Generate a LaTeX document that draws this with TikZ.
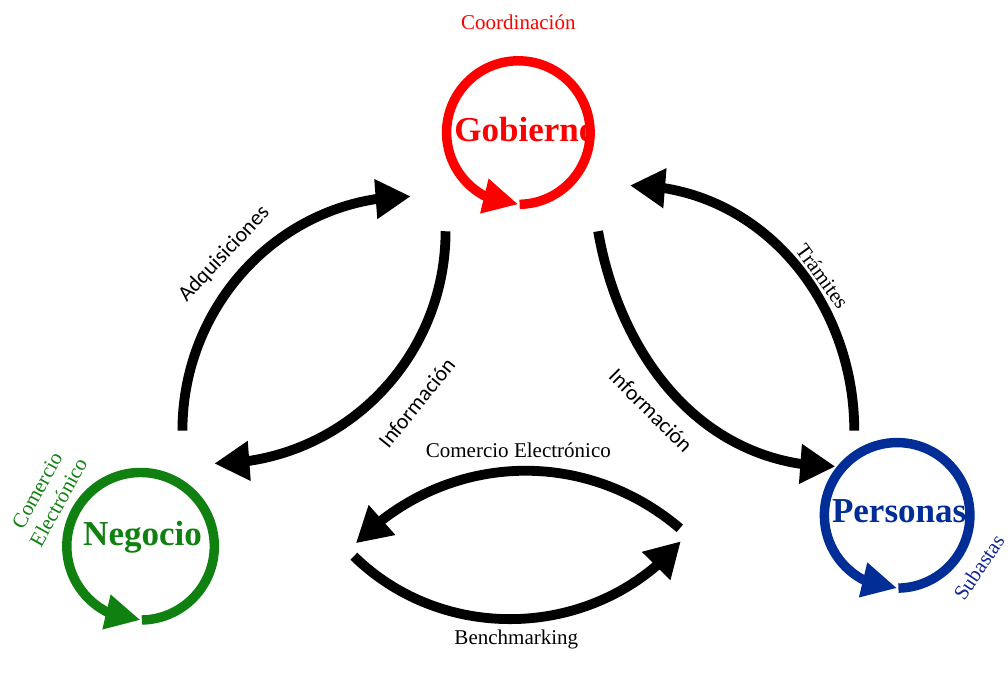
\documentclass[tikz,border=0pt]{standalone}
\usepackage{fontspec}
\setmainfont{Liberation Serif}
\newfontfamily\lblsans{Carlito}
\usetikzlibrary{arrows.meta, bending, positioning}

\definecolor{gobred}{RGB}{255,0,0}
\definecolor{neggreen}{RGB}{16,128,16}
\definecolor{perblue}{RGB}{0,45,150}

\tikzset{
  ring/.style={line width=5.4pt, -{Triangle[length=20pt,width=19pt]}},
  flow/.style={line width=5.6pt, black, -{Triangle[length=20pt,width=21.5pt]}},
  ttl/.style={font=\bfseries\fontsize{20}{24}\selectfont, inner sep=0pt},
  lbl/.style={font=\fontsize{12}{14}\selectfont, inner sep=1pt},
  sans/.style={font=\lblsans\fontsize{12.5}{14}\selectfont, inner sep=1pt}
}

\begin{document}
\begin{tikzpicture}[x=0.02cm, y=0.02cm]

\draw[draw=none] (0,0) rectangle (1008,689);

\def\rgob{72}
\def\rneg{74}
\def\rper{73}

% the three actors
\coordinate (gobc) at (520,556);
\coordinate (negc) at (141,141);
\coordinate (perc) at (900,172);

\draw[ring, gobred] (gobc) ++(-89:\rgob) arc[start angle=-89, end angle=270, radius=\rgob];
\draw[ring, neggreen] (negc) ++(-89:\rneg) arc[start angle=-89, end angle=270, radius=\rneg];
\draw[ring, perblue] (perc) ++(-89:\rper) arc[start angle=-89, end angle=270, radius=\rper];

\node[ttl, text=gobred] (gob) at (527,559) {Gobierno};
\node[ttl, text=neggreen] (neg) at (143,150) {Negocio};
\node[ttl, text=perblue] (per) at (902,176) {Personas};

\node[lbl, text=gobred] (lcoo) at (520,667) {Coordinación};
\node[lbl, text=neggreen, rotate=61, align=center] (lcom) at (48,191) {Comercio\\Electrónico};
\node[lbl, text=perblue!85!violet, rotate=56] (lsub) at (982,120) {Subastas};

% flows
\coordinate (a1s) at (183,257); \coordinate (a1e) at (412,492);
\coordinate (a2s) at (447,457); \coordinate (a2e) at (215,224);
\coordinate (a3s) at (600,457); \coordinate (a3e) at (838,221);
\coordinate (a4s) at (857,257); \coordinate (a4e) at (632,503);
\coordinate (a5s) at (682,159); \coordinate (a5e) at (357,144);
\coordinate (a6s) at (355,131); \coordinate (a6e) at (683,146);

\draw[flow] (a1s) to[out=90, in=180] (a1e);
\draw[flow] (a2s) to[out=-90, in=0] (a2e);
\draw[flow] (a3s) to[out=-80, in=180] (a3e);
\draw[flow] (a4s) to[out=90, in=0] (a4e);
\draw[flow] (a5s) to[bend right=43] (a5e);
\draw[flow] (a6s) to[bend right=47] (a6e);

\node[sans, rotate=47] (ladq) at (225,434) {Adquisiciones};
\node[sans, rotate=51] (linf1) at (418,285) {Información};
\node[sans, rotate=-45] (linf2) at (653,277) {Información};
\node[lbl, rotate=-54] (ltra) at (825,412) {Trámites};
\node[lbl] (lcel) at (520,237) {Comercio Electrónico};
\node[lbl] (lben) at (518,47) {Benchmarking};

\end{tikzpicture}
\end{document}
